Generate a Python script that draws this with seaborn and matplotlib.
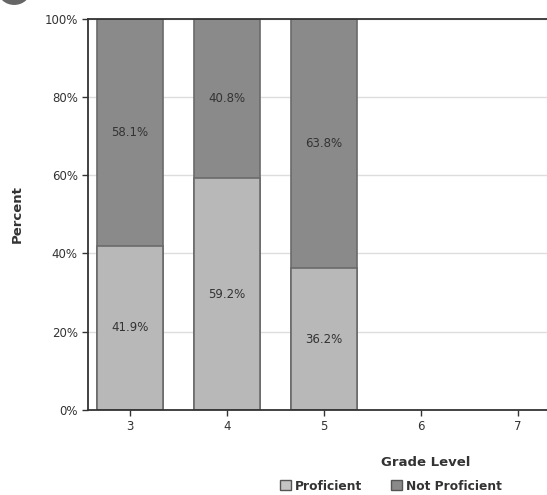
import numpy as np
import pandas as pd
import matplotlib.pyplot as plt
import seaborn as sns
from matplotlib.patches import Circle

grades = ['3', '4', '5', '6', '7']
bar_grades = ['3', '4', '5']
proficient = [41.9, 59.2, 36.2]
not_proficient = [58.1, 40.8, 63.8]

sns.set_theme(style='white')
plt.rcParams['font.family'] = ['DejaVu Sans']

df = pd.DataFrame({'grade': bar_grades,
                   'Proficient': proficient,
                   'Not Proficient': not_proficient})
df['total'] = df['Proficient'] + df['Not Proficient']

fig = plt.figure(figsize=(5.47, 4.95), dpi=100)
ax = fig.add_axes([0.161, 0.172, 0.839, 0.79])

# stacked bars: full height first, proficient part drawn over it
sns.barplot(data=df, x='grade', y='total', order=grades, color='#8a8a8a',
            width=0.68, edgecolor='#6a6a6a', linewidth=1.2, saturation=1, ax=ax)
sns.barplot(data=df, x='grade', y='Proficient', order=grades, color='#b8b8b8',
            width=0.68, edgecolor='#6a6a6a', linewidth=1.2, saturation=1, ax=ax)

top_bars = ax.containers[0]
low_bars = ax.containers[1]
for bar, v in zip(top_bars, df['Not Proficient']):
    y0 = bar.get_height() - v
    ax.text(bar.get_x() + bar.get_width() / 2, y0 + (bar.get_height() - y0) / 2,
            f'{v:.1f}%', ha='center', va='center', fontsize=8.5, color='#333333')
ax.bar_label(low_bars, labels=[f'{v:.1f}%' for v in df['Proficient']],
             label_type='center', fontsize=8.5, color='#333333')

ax.set_ylim(0, 100)
ax.set_xlim(-0.433, 4.3)
ax.set_yticks([0, 20, 40, 60, 80, 100])
ax.set_yticklabels([f'{t}%' for t in [0, 20, 40, 60, 80, 100]])
ax.yaxis.grid(True, color='#dddddd', linewidth=1)
ax.set_axisbelow(True)
ax.tick_params(axis='both', which='both', length=4, width=1, color='#333333',
               labelsize=8.5, labelcolor='#333333', left=True, bottom=True)
ax.tick_params(axis='x', pad=3)
for s in ['left', 'bottom', 'top']:
    ax.spines[s].set_color('#333333')
    ax.spines[s].set_linewidth(1.3)
ax.spines['right'].set_visible(False)

ax.set_xlabel('')
ax.set_ylabel('Percent', fontsize=9.5, fontweight='bold', color='#333333', labelpad=15)
fig.text(0.779, 0.066, 'Grade Level', fontsize=9.5, fontweight='bold',
         color='#333333', ha='center', va='center')

handles = [plt.Rectangle((0, 0), 1, 1, facecolor='#c4c4c4', edgecolor='#555555'),
           plt.Rectangle((0, 0), 1, 1, facecolor='#8a8a8a', edgecolor='#555555')]
leg = fig.legend(handles, ['Proficient', 'Not Proficient'], loc='center',
                 bbox_to_anchor=(0.715, 0.018), ncol=2, frameon=False,
                 handlelength=0.9, handleheight=0.9, handletextpad=0.3,
                 columnspacing=2.4, prop={'size': 8.8, 'weight': 'bold'})
for t in leg.get_texts():
    t.set_color('#333333')

fig.patches.append(Circle((0.026, 1.02), 0.03, transform=fig.transFigure,
                          facecolor='#666666', edgecolor='none'))

fig.savefig('out.png', dpi=100)
